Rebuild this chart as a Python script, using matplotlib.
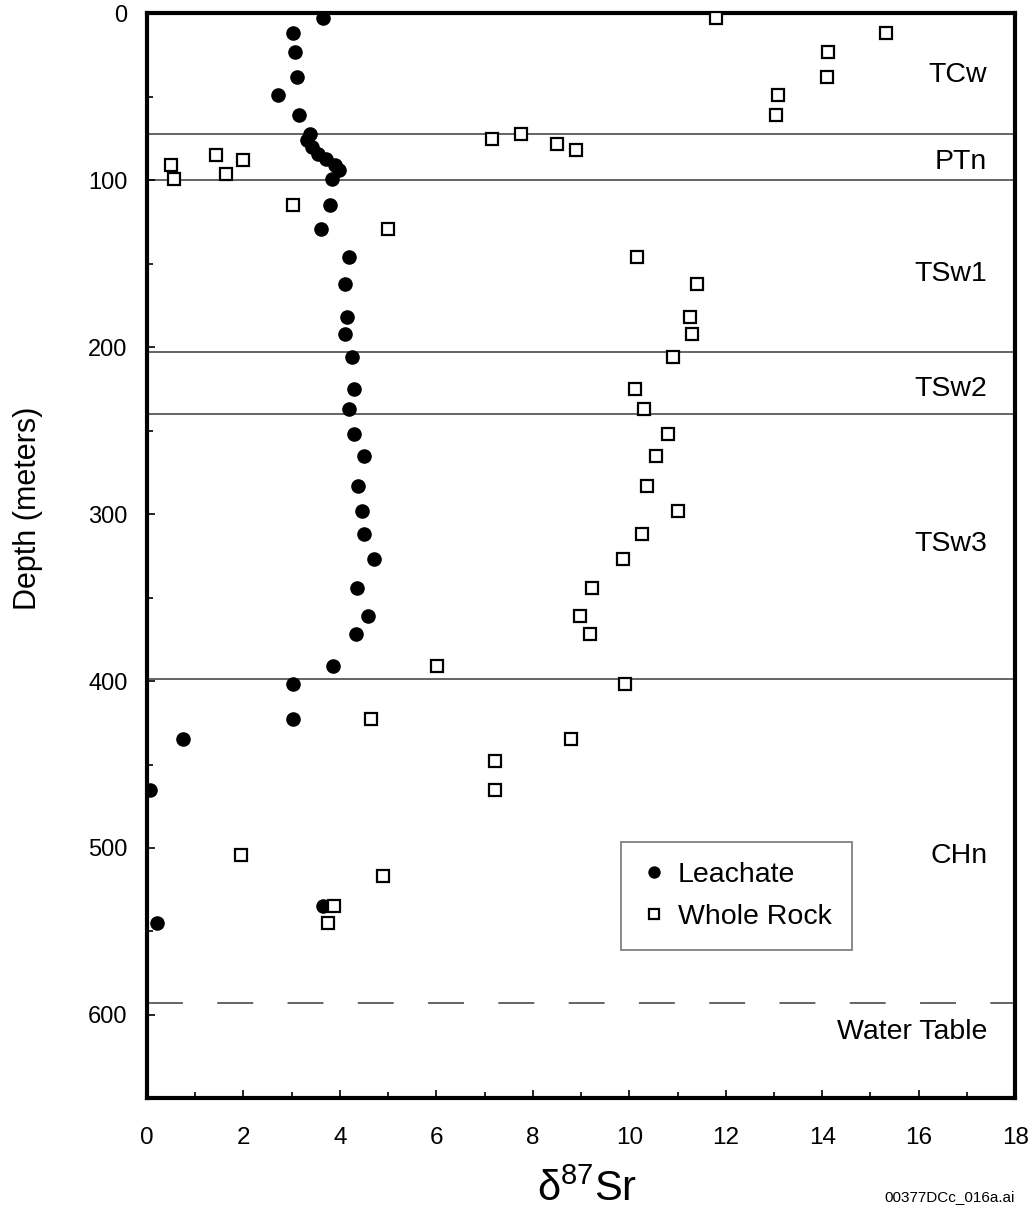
import matplotlib
matplotlib.use("Agg")
import matplotlib.pyplot as plt
from matplotlib.ticker import MultipleLocator

plt.rcParams['font.family'] = ['Liberation Sans', 'DejaVu Sans']
plt.rcParams['mathtext.fontset'] = 'custom'
plt.rcParams['mathtext.rm'] = 'Liberation Sans'

# Leachate (delta 87Sr, depth m)
leach_sr = [3.65, 3.02, 3.06, 3.11, 2.72, 3.16,
            3.38, 3.32, 3.42, 3.55, 3.72, 3.90, 3.98, 3.84,
            3.80, 3.61, 4.19, 4.10, 4.15, 4.10, 4.24, 4.29, 4.19, 4.29,
            4.50, 4.38, 4.45, 4.50, 4.70, 4.35, 4.59, 4.34, 3.86,
            3.02, 3.02, 0.75, 0.06, 3.64, 0.21]
leach_depth = [3, 12, 23, 38, 49, 61,
               72, 76, 80, 84, 87, 91, 94, 99,
               115, 129, 146, 162, 182, 192, 206, 225, 237, 252,
               265, 283, 298, 312, 327, 344, 361, 372, 391,
               402, 423, 435, 465, 535, 545]

# Whole rock
rock_sr = [11.80, 15.32, 14.13, 14.09, 13.09, 13.04,
           7.76, 7.16, 8.50, 8.89,
           1.43, 1.98, 0.50, 1.63, 0.55,
           3.03, 4.99, 10.16, 11.40, 11.25, 11.30, 10.91, 10.12, 10.31,
           10.81, 10.55, 10.36, 11.00, 10.26, 9.87, 9.23, 8.98, 9.18,
           6.02, 9.92, 4.65, 8.79, 7.21, 7.21, 1.94, 4.89, 3.87, 3.76]
rock_depth = [3, 12, 23, 38, 49, 61,
              72, 75, 78, 82,
              85, 88, 91, 96, 99,
              115, 129, 146, 162, 182, 192, 206, 225, 237,
              252, 265, 283, 298, 312, 327, 344, 361, 372,
              391, 402, 423, 435, 448, 465, 504, 517, 535, 545]

# unit boundaries and labels
boundaries = [72, 100, 203, 240, 399]
water_table = 593
units = ['TCw', 'PTn', 'TSw1', 'TSw2', 'TSw3', 'CHn', 'Water Table']
unit_depth = [37, 89, 156, 225, 318, 505, 610]

fig = plt.figure(figsize=(10.31, 12.19), dpi=100)
ax = fig.add_axes([0.1426, 0.099, 0.842, 0.890])

for b in boundaries:
    ax.axhline(b, color='#3a3a3a', lw=1.1, zorder=1)
ax.axhline(water_table, color='#3a3a3a', lw=1.1, linestyle=(0, (23.5, 22.5)), zorder=1)

ax.plot(leach_sr, leach_depth, 'o', color='black', ms=10.5, mew=0,
        linestyle='none', label='Leachate', zorder=3)
ax.plot(rock_sr, rock_depth, 's', mfc='white', mec='black', ms=9, mew=1.6,
        linestyle='none', label='Whole Rock', zorder=4)

for name, d in zip(units, unit_depth):
    ax.text(17.42, d, name, ha='right', va='center', fontsize=20.5, zorder=5)

ax.set_xlim(0, 18)
ax.set_ylim(650, 0)
ax.xaxis.set_major_locator(MultipleLocator(2))
ax.xaxis.set_minor_locator(MultipleLocator(1))
ax.yaxis.set_major_locator(MultipleLocator(100))
ax.yaxis.set_minor_locator(MultipleLocator(50))
ax.tick_params(which='both', direction='in', top=False, right=False, width=1.2)
ax.tick_params(which='major', length=6)
ax.tick_params(which='minor', length=4.5)
ax.tick_params(axis='y', labelsize=17, pad=14)
ax.tick_params(axis='x', labelsize=17.5, pad=21)
for s in ax.spines.values():
    s.set_linewidth(3)

leg = ax.legend(loc='upper left', bbox_to_anchor=(0.546, 0.236), borderaxespad=0,
                fontsize=20.5, frameon=True, fancybox=False, handlelength=0.9,
                handletextpad=0.4, borderpad=0.7, labelspacing=0.55, markerscale=0.85)
leg.get_frame().set_edgecolor('#555555')
leg.get_frame().set_linewidth(1.2)

fig.text(28 / 1031, 1 - 508 / 1219, 'Depth (meters)', rotation=90,
         ha='center', va='center', fontsize=22)
fig.text(587 / 1031, 1 - 1190 / 1219, r'δ$^{\mathrm{87}}$Sr', ha='center', va='center',
         fontsize=30)
fig.text(950 / 1031, 1 - 1197 / 1219, '00377DCc_016a.ai', ha='center', va='center',
         fontsize=11)

fig.savefig('out.png', dpi=100)
